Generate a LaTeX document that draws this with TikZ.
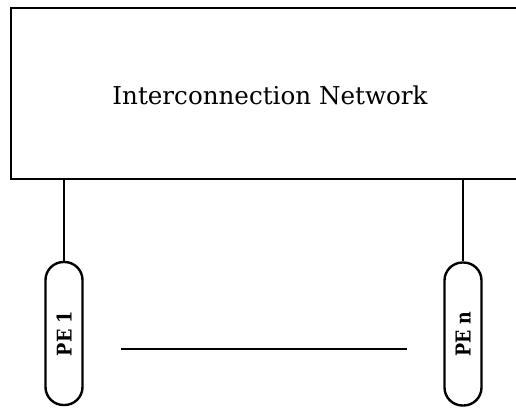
\documentclass[tikz,border=0pt]{standalone}
\usepackage{fontspec}
\newfontfamily\netfont{DejaVu Serif}
\begin{document}
\begin{tikzpicture}[x=1pt,y=-1pt,
  netbox/.style={draw, line width=2.4pt, rectangle, minimum width=520pt, minimum height=171pt, anchor=north west, inner sep=0pt},
  pebox/.style={draw, line width=2.4pt, rectangle, rounded corners=18pt, minimum width=37pt, minimum height=143pt, inner sep=0pt},
  wire/.style={line width=2.2pt}
]
\useasboundingbox (0,0) rectangle (516,408);
\clip (0,0) rectangle (516,408);
\node[netbox] (net) at (10,7) {};
\node (label) at (270,95) {\resizebox{315pt}{!}{\netfont Interconnection Network}};
\node[pebox] (pe1) at (64,333.5) {\rotatebox{90}{\resizebox{45pt}{15pt}{\netfont\bfseries PE 1}}};
\node[pebox] (pen) at (463,334) {\rotatebox{90}{\resizebox{45pt}{15pt}{\netfont\bfseries PE n}}};
\coordinate (t1) at (pe1.north |- net.south);
\coordinate (tn) at (pen.north |- net.south);
\draw[wire] (t1) -- (pe1.north);
\draw[wire] (tn) -- (pen.north);
\coordinate (dl) at (121,349);
\coordinate (dr) at (407,349);
\draw[wire] (dl) -- (dr);
\end{tikzpicture}
\end{document}
